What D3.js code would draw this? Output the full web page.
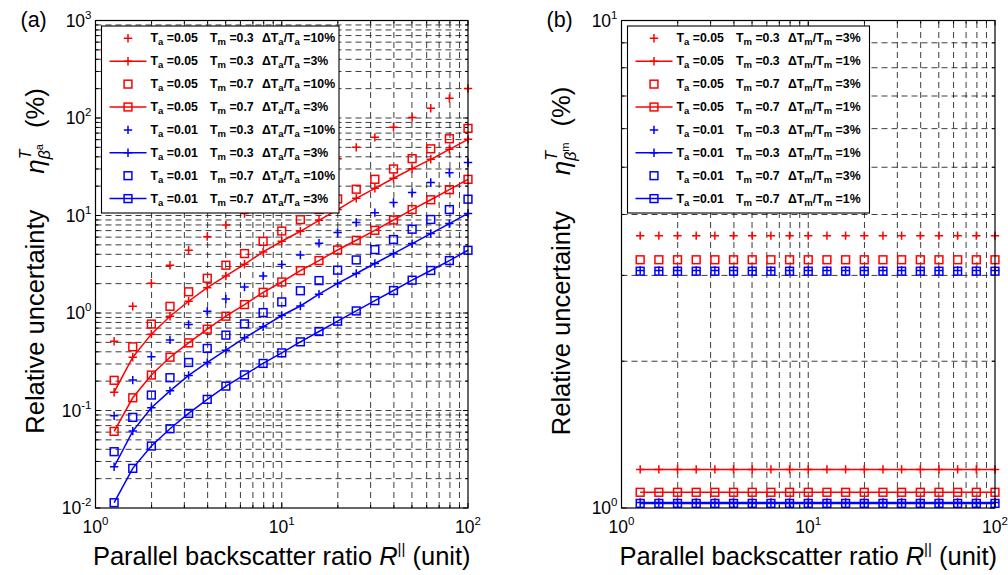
<!DOCTYPE html>
<html>
<head>
<meta charset="utf-8">
<script src="https://cdn.jsdelivr.net/npm/d3@7"></script>
<style>
  body { margin: 0; background: #fff; }
  text { font-family: "Liberation Sans", Arial, sans-serif; }
</style>
</head>
<body>
<div id="chart"></div>
<script>
// backscatter ratio R (same for both panels)
var xValues = [1.259, 1.585, 1.995, 2.512, 3.162, 3.981, 5.012, 6.310, 7.943, 10.0,
               12.59, 15.85, 19.95, 25.12, 31.62, 39.81, 50.12, 63.10, 79.43, 100.0];

// panel (a) : eta_{beta^a}^T (%)
var aRedPlus10  = [0.513, 1.17, 2.02, 3.09, 4.40, 6.07, 8.0, 10.5, 14.1, 18.1, 23.0, 29.8, 38.3, 50.0, 63.3, 80.3, 101, 126, 159, 201];
var aRedPlus3   = [0.154, 0.352, 0.607, 0.927, 1.32, 1.82, 2.40, 3.16, 4.23, 5.44, 6.89, 8.93, 11.5, 15.0, 19.0, 24.1, 30.2, 37.7, 47.7, 60.4];
var aRedSq10    = [0.204, 0.45, 0.77, 1.17, 1.65, 2.27, 3.09, 4.07, 5.43, 6.93, 9.07, 11.5, 14.8, 18.6, 23.5, 30.0, 38.3, 48.3, 61.3, 78.3];
var aRedSq3     = [0.0611, 0.135, 0.231, 0.352, 0.494, 0.682, 0.927, 1.22, 1.63, 2.08, 2.72, 3.45, 4.43, 5.57, 7.05, 8.99, 11.5, 14.5, 18.4, 23.5];
var aBluePlus10 = [0.0883, 0.205, 0.356, 0.53, 0.763, 1.04, 1.39, 1.85, 2.40, 3.14, 3.93, 5.2, 6.7, 8.47, 10.7, 13.6, 17.2, 21.8, 27.5, 35.0];
var aBluePlus3  = [0.0265, 0.0615, 0.1067, 0.159, 0.229, 0.311, 0.416, 0.556, 0.721, 0.942, 1.18, 1.56, 2.01, 2.54, 3.22, 4.07, 5.15, 6.53, 8.26, 10.5];
var aBlueSq10   = [0.0378, 0.085, 0.144, 0.217, 0.311, 0.433, 0.593, 0.773, 1.01, 1.30, 1.69, 2.15, 2.75, 3.5, 4.47, 5.67, 7.23, 9.1, 11.5, 14.7];
var aBlueSq3    = [0.01133, 0.0255, 0.0432, 0.065, 0.0934, 0.130, 0.178, 0.232, 0.304, 0.390, 0.506, 0.646, 0.824, 1.05, 1.34, 1.70, 2.17, 2.73, 3.45, 4.40];

// panel (b) : eta_{beta^m}^T (%)
var bRedPlus3  = [3.62, 3.62, 3.62, 3.62, 3.62, 3.62, 3.62, 3.62, 3.62, 3.62, 3.62, 3.62, 3.62, 3.62, 3.62, 3.62, 3.62, 3.62, 3.62, 3.62];
var bRedPlus1  = [1.20, 1.20, 1.20, 1.20, 1.20, 1.20, 1.20, 1.20, 1.20, 1.20, 1.20, 1.20, 1.20, 1.20, 1.20, 1.20, 1.20, 1.20, 1.20, 1.20];
var bRedSq3    = [3.23, 3.23, 3.23, 3.23, 3.23, 3.23, 3.23, 3.23, 3.23, 3.23, 3.23, 3.23, 3.23, 3.23, 3.23, 3.23, 3.23, 3.23, 3.23, 3.23];
var bRedSq1    = [1.077, 1.077, 1.077, 1.077, 1.077, 1.077, 1.077, 1.077, 1.077, 1.077, 1.077, 1.077, 1.077, 1.077, 1.077, 1.077, 1.077, 1.077, 1.077, 1.077];
var bBluePlus3 = [3.07, 3.07, 3.07, 3.07, 3.07, 3.07, 3.07, 3.07, 3.07, 3.07, 3.07, 3.07, 3.07, 3.07, 3.07, 3.07, 3.07, 3.07, 3.07, 3.07];
var bBluePlus1 = [1.026, 1.026, 1.026, 1.026, 1.026, 1.026, 1.026, 1.026, 1.026, 1.026, 1.026, 1.026, 1.026, 1.026, 1.026, 1.026, 1.026, 1.026, 1.026, 1.026];
var bBlueSq3   = [3.06, 3.06, 3.06, 3.06, 3.06, 3.06, 3.06, 3.06, 3.06, 3.06, 3.06, 3.06, 3.06, 3.06, 3.06, 3.06, 3.06, 3.06, 3.06, 3.06];
var bBlueSq1   = [1.022, 1.022, 1.022, 1.022, 1.022, 1.022, 1.022, 1.022, 1.022, 1.022, 1.022, 1.022, 1.022, 1.022, 1.022, 1.022, 1.022, 1.022, 1.022, 1.022];

// legend entries: Ta, Tm, uncertainty
var legendTa  = ["0.05", "0.05", "0.05", "0.05", "0.01", "0.01", "0.01", "0.01"];
var legendTm  = ["0.3", "0.3", "0.7", "0.7", "0.3", "0.3", "0.7", "0.7"];
var legendDa  = ["10%", "3%", "10%", "3%", "10%", "3%", "10%", "3%"];
var legendDm  = ["3%", "1%", "3%", "1%", "3%", "1%", "3%", "1%"];

var yTicksA = [0.01, 0.1, 1, 10, 100, 1000];
var yTicksB = [1, 10];
var xTicks = [1, 10, 100];

var W = 1008, H = 575;
var RED = "#ff0000", BLUE = "#0000ff";

var svg = d3.select("#chart").append("svg")
    .attr("width", W)
    .attr("height", H);

// text with sub/superscripts, pieces: {t, size, off, italic, dx, back}
function rich(sel, pieces) {
    var cur = 0, prev = null;
    pieces.forEach(function (p) {
        var off = p.off || 0;
        var ts = sel.append("tspan")
            .attr("dy", off - cur)
            .attr("font-size", p.size)
            .text(p.t);
        if (p.italic) ts.attr("font-style", "italic");
        var dx = p.dx || 0;
        if (p.back && prev) dx -= prev.node().getComputedTextLength();
        if (dx) ts.attr("dx", dx);
        cur = off;
        prev = ts;
    });
}

function expLabel(sel, v) {
    var e = Math.round(Math.log10(v));
    rich(sel, [{ t: "10", size: 17.5 }, { t: String(e), size: 11.5, off: -8 }]);
}

function drawPanel(o) {
    var g = svg.append("g");
    var x = d3.scaleLog().domain([1, 100]).range([o.left, o.right]);
    var y = d3.scaleLog().domain(o.yDomain).range([o.bottom, o.top]);

    var isMajor = function (v) { return Math.abs(Math.log10(v) - Math.round(Math.log10(v))) < 1e-6; };

    // grid
    var grid = g.append("g")
        .attr("stroke", "#1a1a1a")
        .attr("stroke-width", 0.85)
        .attr("stroke-dasharray", "6,4");
    x.ticks().filter(function (v) { return v > 1 && v < 100; }).forEach(function (v) {
        grid.append("line").attr("x1", x(v)).attr("x2", x(v)).attr("y1", o.bottom).attr("y2", o.top);
    });
    y.ticks().filter(function (v) { return v > o.yDomain[0] * 1.0001 && v < o.yDomain[1] * 0.9999; }).forEach(function (v) {
        grid.append("line").attr("y1", y(v)).attr("y2", y(v)).attr("x1", o.left).attr("x2", o.right);
    });

    // ticks, inside on all four sides
    var tk = g.append("g").attr("stroke", "#000").attr("stroke-width", 1);
    x.ticks().forEach(function (v) {
        var L = isMajor(v) ? 5 : 3;
        tk.append("line").attr("x1", x(v)).attr("x2", x(v)).attr("y1", o.bottom).attr("y2", o.bottom - L);
        tk.append("line").attr("x1", x(v)).attr("x2", x(v)).attr("y1", o.top).attr("y2", o.top + L);
    });
    y.ticks().forEach(function (v) {
        var L = isMajor(v) ? 5 : 3;
        tk.append("line").attr("y1", y(v)).attr("y2", y(v)).attr("x1", o.left).attr("x2", o.left + L);
        tk.append("line").attr("y1", y(v)).attr("y2", y(v)).attr("x1", o.right).attr("x2", o.right - L);
    });

    // series
    var line = d3.line()
        .x(function (d) { return x(d.x); })
        .y(function (d) { return y(d.y); });

    o.series.forEach(function (s) {
        var pts = xValues.map(function (xv, i) { return { x: xv, y: s.values[i] }; });
        var sg = g.append("g").attr("stroke", s.color).attr("fill", "none").attr("stroke-width", 1.5);
        if (s.line) sg.append("path").attr("d", line(pts));
        drawMarkers(sg, pts.map(function (p) { return [x(p.x), y(p.y)]; }), s.marker);
    });

    // axes box
    g.append("rect")
        .attr("x", o.left).attr("y", o.top)
        .attr("width", o.right - o.left).attr("height", o.bottom - o.top)
        .attr("fill", "none").attr("stroke", "#000").attr("stroke-width", 1.2);

    // tick labels
    xTicks.forEach(function (v) {
        var t = g.append("text").attr("x", x(v)).attr("y", o.bottom + 25)
            .attr("text-anchor", "middle").attr("fill", "#000");
        expLabel(t, v);
    });
    o.yTicks.forEach(function (v) {
        var t = g.append("text").attr("x", o.left - 4).attr("y", y(v) + 6)
            .attr("text-anchor", "end").attr("fill", "#000");
        expLabel(t, v);
    });

    // x label
    var xl = g.append("text").attr("x", (o.left + o.right) / 2).attr("y", 565)
        .attr("text-anchor", "middle").attr("fill", "#000");
    rich(xl, [
        { t: "Parallel backscatter ratio ", size: 25.5 },
        { t: "R", size: 25.5, italic: true },
        { t: "||", size: 15, off: -11 },
        { t: " (unit)", size: 25.5, off: 0 }
    ]);

    // y label
    var yl = g.append("text")
        .attr("transform", "translate(" + (o.left - 51.5) + "," + 261 + ") rotate(-90)")
        .attr("text-anchor", "middle").attr("fill", "#000");
    rich(yl, [
        { t: "Relative uncertainty", size: 25.5 },
        { t: "\u03B7", size: 26, italic: true, dx: 36 },
        { t: "T", size: 16, italic: true, off: -13 },
        { t: "\u03B2", size: 16, italic: true, off: 6, back: true },
        { t: o.sub, size: 11, off: -1 },
        { t: "(%)", size: 25.5, off: 0, dx: 16 }
    ]);

    // panel tag
    g.append("text").attr("x", o.left - 75).attr("y", 27)
        .attr("font-size", 21.5).attr("fill", "#000").text(o.tag);

    // legend
    var lg = g.append("g").attr("transform", "translate(" + (o.left + 6) + ",26)");
    lg.append("rect").attr("width", o.legendW).attr("height", 187)
        .attr("fill", "#fff").attr("stroke", "#000").attr("stroke-width", 1.1);
    o.series.forEach(function (s, i) {
        var cy = 12.3 + i * 22.9;
        var mg = lg.append("g").attr("stroke", s.color).attr("fill", "none").attr("stroke-width", 1.5);
        if (s.line) mg.append("line").attr("x1", 8).attr("x2", 45).attr("y1", cy).attr("y2", cy);
        drawMarkers(mg, [[26.5, cy]], s.marker);

        var base = cy + 3.9;
        var t1 = lg.append("text").attr("x", 49).attr("y", base).attr("font-weight", "bold").attr("fill", "#000");
        rich(t1, [{ t: "T", size: 12.3 }, { t: "a", size: 9.5, off: 3.2 }, { t: " =" + legendTa[i], size: 12.3, off: 0 }]);
        var t2 = lg.append("text").attr("x", 108.5).attr("y", base).attr("font-weight", "bold").attr("fill", "#000");
        rich(t2, [{ t: "T", size: 12.3 }, { t: "m", size: 9.5, off: 3.2 }, { t: " =" + legendTm[i], size: 12.3, off: 0 }]);
        var t3 = lg.append("text").attr("x", 160.5).attr("y", base).attr("font-weight", "bold").attr("fill", "#000");
        rich(t3, [
            { t: "\u0394T", size: 12.3 }, { t: o.sub, size: 9.5, off: 3.2 },
            { t: "/T", size: 12.3, off: 0 }, { t: o.sub, size: 9.5, off: 3.2 },
            { t: " =" + o.legendD[i], size: 12.3, off: 0 }
        ]);
    });
}

function drawMarkers(sel, pts, marker) {
    pts.forEach(function (p) {
        if (marker === "plus") {
            sel.append("path").attr("d", "M" + (p[0] - 4.2) + "," + p[1] + "H" + (p[0] + 4.2) + "M" + p[0] + "," + (p[1] - 4.2) + "V" + (p[1] + 4.2));
        } else {
            sel.append("rect").attr("x", p[0] - 3.9).attr("y", p[1] - 3.9).attr("width", 7.8).attr("height", 7.8);
        }
    });
}

drawPanel({
    tag: "(a)", sub: "a",
    left: 95.5, right: 468, top: 20.5, bottom: 508,
    yDomain: [0.01, 1000], yTicks: yTicksA, legendW: 237.5, legendD: legendDa,
    series: [
        { values: aRedPlus10, color: RED, marker: "plus", line: false },
        { values: aRedPlus3, color: RED, marker: "plus", line: true },
        { values: aRedSq10, color: RED, marker: "square", line: false },
        { values: aRedSq3, color: RED, marker: "square", line: true },
        { values: aBluePlus10, color: BLUE, marker: "plus", line: false },
        { values: aBluePlus3, color: BLUE, marker: "plus", line: true },
        { values: aBlueSq10, color: BLUE, marker: "square", line: false },
        { values: aBlueSq3, color: BLUE, marker: "square", line: true }
    ]
});

drawPanel({
    tag: "(b)", sub: "m",
    left: 621.5, right: 995, top: 20.5, bottom: 508,
    yDomain: [1, 10], yTicks: yTicksB, legendW: 242, legendD: legendDm,
    series: [
        { values: bRedPlus3, color: RED, marker: "plus", line: false },
        { values: bRedPlus1, color: RED, marker: "plus", line: true },
        { values: bRedSq3, color: RED, marker: "square", line: false },
        { values: bRedSq1, color: RED, marker: "square", line: true },
        { values: bBluePlus3, color: BLUE, marker: "plus", line: false },
        { values: bBluePlus1, color: BLUE, marker: "plus", line: true },
        { values: bBlueSq3, color: BLUE, marker: "square", line: false },
        { values: bBlueSq1, color: BLUE, marker: "square", line: true }
    ]
});
</script>
</body>
</html>
